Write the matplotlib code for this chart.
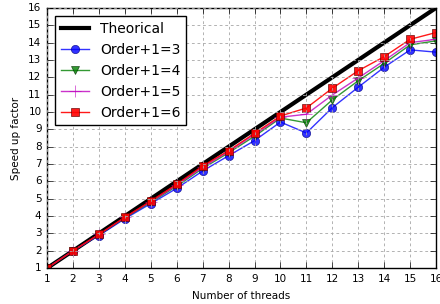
import matplotlib
matplotlib.use("Agg")
import matplotlib.pyplot as plt

plt.style.use('classic')

threads = list(range(1, 17))
theorical = list(range(1, 17))
order3 = [1.0, 2.0, 2.88, 3.85, 4.72, 5.6, 6.6, 7.48, 8.35, 9.42, 8.79, 10.25, 11.43, 12.58, 13.58, 13.45]
order4 = [1.0, 2.0, 2.92, 3.9, 4.8, 5.72, 6.75, 7.65, 8.6, 9.65, 9.38, 10.7, 11.8, 12.8, 13.87, 14.1]
order5 = [1.0, 2.0, 2.94, 3.92, 4.84, 5.78, 6.82, 7.72, 8.7, 9.7, 9.87, 10.98, 11.96, 12.96, 14.0, 14.19]
order6 = [1.0, 2.0, 2.95, 3.93, 4.87, 5.83, 6.89, 7.77, 8.77, 9.77, 10.23, 11.37, 12.38, 13.19, 14.19, 14.58]

fig = plt.figure(figsize=(4.4, 3.04), dpi=100)
ax = fig.add_axes([0.107, 0.118, 0.884, 0.856])
ax.plot(threads, theorical, 'k-', lw=3, label='Theorical')
ax.plot(threads, order3, 'b-o', markersize=6, mec='#000080', alpha=0.8, label='Order+1=3')
ax.plot(threads, order4, 'g-v', markersize=6, mec='#003000', alpha=0.8, label='Order+1=4')
ax.plot(threads, order5, 'm-+', markersize=8, alpha=0.8, label='Order+1=5')
ax.plot(threads, order6, 'r-s', markersize=6, mec='#600000', alpha=0.9, label='Order+1=6')
ax.set_xlim(1, 16)
ax.set_ylim(1, 16)
ax.set_xticks(range(1, 17))
ax.set_yticks(range(1, 17))
ax.tick_params(labelsize=7.5)
ax.grid(True, color='0.65', linestyle=(0, (2, 2)), lw=0.6)
ax.set_xlabel('Number of threads', fontsize=7.5)
ax.set_ylabel('Speed up factor', fontsize=7.5)
ax.legend(loc='upper left', fontsize=10, numpoints=1, borderaxespad=0.6)
fig.savefig('out.png', dpi=100)
